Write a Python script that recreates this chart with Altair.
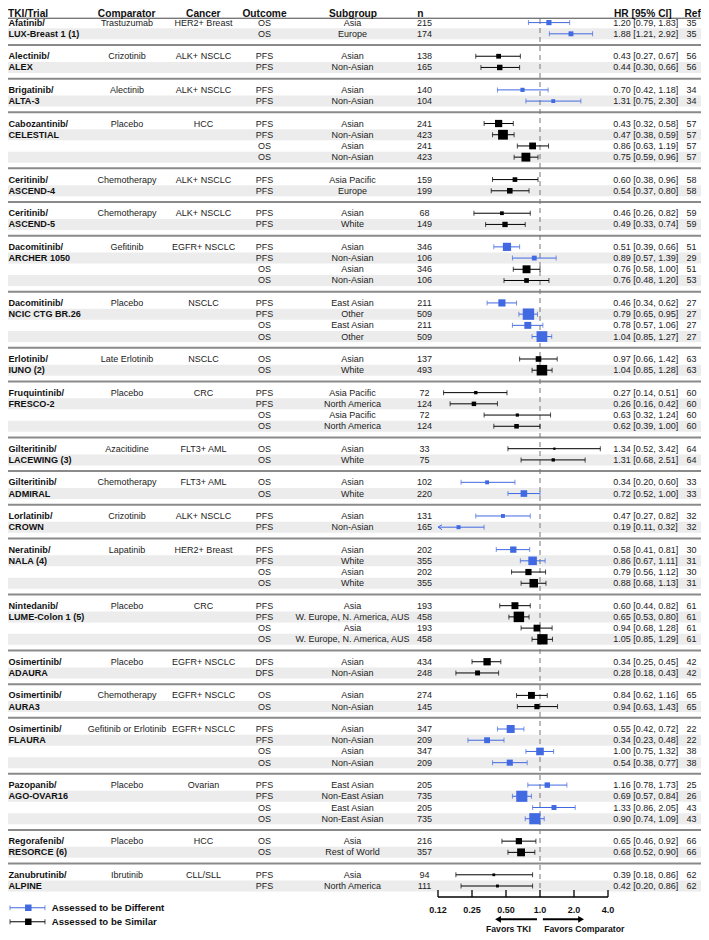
import math
import altair as alt
import pandas as pd

FONT = "Liberation Sans"
BLUE = "#4169E1"
XMIN, XMAX = 0.125, 4.0

# ---- trial-level data ----
trial_drug = ["Afatinib/", "Alectinib/", "Brigatinib/", "Cabozantinib/", "Ceritinib/", "Ceritinib/",
              "Dacomitinib/", "Dacomitinib/", "Erlotinib/", "Fruquintinib/", "Gilteritinib/",
              "Gilteritinib/", "Lorlatinib/", "Neratinib/", "Nintedanib/", "Osimertinib/",
              "Osimertinib/", "Osimertinib/", "Pazopanib/", "Regorafenib/", "Zanubrutinib/"]
trial_name = ["LUX-Breast 1 (1)", "ALEX", "ALTA-3", "CELESTIAL", "ASCEND-4", "ASCEND-5",
              "ARCHER 1050", "NCIC CTG BR.26", "IUNO (2)", "FRESCO-2", "LACEWING (3)", "ADMIRAL",
              "CROWN", "NALA (4)", "LUME-Colon 1 (5)", "ADAURA", "AURA3", "FLAURA", "AGO-OVAR16",
              "RESORCE (6)", "ALPINE"]
comparator = ["Trastuzumab", "Crizotinib", "Alectinib", "Placebo", "Chemotherapy", "Chemotherapy",
              "Gefitinib", "Placebo", "Late Erlotinib", "Placebo", "Azacitidine", "Chemotherapy",
              "Crizotinib", "Lapatinib", "Placebo", "Placebo", "Chemotherapy",
              "Gefitinib or Erlotinib", "Placebo", "Placebo", "Ibrutinib"]
cancer = ["HER2+ Breast", "ALK+ NSCLC", "ALK+ NSCLC", "HCC", "ALK+ NSCLC", "ALK+ NSCLC",
          "EGFR+ NSCLC", "NSCLC", "NSCLC", "CRC", "FLT3+ AML", "FLT3+ AML", "ALK+ NSCLC",
          "HER2+ Breast", "CRC", "EGFR+ NSCLC", "EGFR+ NSCLC", "EGFR+ NSCLC", "Ovarian", "HCC",
          "CLL/SLL"]
rows_per_trial = [2, 2, 2, 4, 2, 2, 4, 4, 2, 4, 2, 2, 2, 4, 4, 2, 2, 4, 4, 2, 2]

# ---- row-level data ----
outcome = ["OS", "OS", "PFS", "PFS", "PFS", "PFS", "PFS", "PFS", "OS", "OS", "PFS", "PFS",
           "PFS", "PFS", "PFS", "PFS", "OS", "OS", "PFS", "PFS", "OS", "OS", "OS", "OS",
           "PFS", "PFS", "OS", "OS", "OS", "OS", "OS", "OS", "PFS", "PFS",
           "PFS", "PFS", "OS", "OS", "PFS", "PFS", "OS", "OS", "DFS", "DFS", "OS", "OS",
           "PFS", "PFS", "OS", "OS", "PFS", "PFS", "OS", "OS", "OS", "OS", "PFS", "PFS"]
subgroup = ["Asia", "Europe", "Asian", "Non-Asian", "Asian", "Non-Asian",
            "Asian", "Non-Asian", "Asian", "Non-Asian", "Asia Pacific", "Europe",
            "Asian", "White", "Asian", "Non-Asian", "Asian", "Non-Asian",
            "East Asian", "Other", "East Asian", "Other", "Asian", "White",
            "Asia Pacific", "North America", "Asia Pacific", "North America",
            "Asian", "White", "Asian", "White", "Asian", "Non-Asian",
            "Asian", "White", "Asian", "White",
            "Asia", "W. Europe, N. America, AUS", "Asia", "W. Europe, N. America, AUS",
            "Asian", "Non-Asian", "Asian", "Non-Asian",
            "Asian", "Non-Asian", "Asian", "Non-Asian",
            "East Asian", "Non-East Asian", "East Asian", "Non-East Asian",
            "Asia", "Rest of World", "Asia", "North America"]
n_pts = [215, 174, 138, 165, 140, 104, 241, 423, 241, 423, 159, 199, 68, 149,
         346, 106, 346, 106, 211, 509, 211, 509, 137, 493, 72, 124, 72, 124, 33, 75,
         102, 220, 131, 165, 202, 355, 202, 355, 193, 458, 193, 458, 434, 248, 274, 145,
         347, 209, 347, 209, 205, 735, 205, 735, 216, 357, 94, 111]
hr = [1.20, 1.88, 0.43, 0.44, 0.70, 1.31, 0.43, 0.47, 0.86, 0.75, 0.60, 0.54, 0.46, 0.49,
      0.51, 0.89, 0.76, 0.76, 0.46, 0.79, 0.78, 1.04, 0.97, 1.04, 0.27, 0.26, 0.63, 0.62,
      1.34, 1.31, 0.34, 0.72, 0.47, 0.19, 0.58, 0.86, 0.79, 0.88, 0.60, 0.65, 0.94, 1.05,
      0.34, 0.28, 0.84, 0.94, 0.55, 0.34, 1.00, 0.54, 1.16, 0.69, 1.33, 0.90, 0.65, 0.68,
      0.39, 0.42]
ci_low = [0.79, 1.21, 0.27, 0.30, 0.42, 0.75, 0.32, 0.38, 0.63, 0.59, 0.38, 0.37, 0.26, 0.33,
          0.39, 0.57, 0.58, 0.48, 0.34, 0.65, 0.57, 0.85, 0.66, 0.85, 0.14, 0.16, 0.32, 0.39,
          0.52, 0.68, 0.20, 0.52, 0.27, 0.11, 0.41, 0.67, 0.56, 0.68, 0.44, 0.53, 0.68, 0.85,
          0.25, 0.18, 0.62, 0.63, 0.42, 0.23, 0.75, 0.38, 0.78, 0.57, 0.86, 0.74, 0.46, 0.52,
          0.18, 0.20]
ci_high = [1.83, 2.92, 0.67, 0.66, 1.18, 2.30, 0.58, 0.59, 1.19, 0.96, 0.96, 0.80, 0.82, 0.74,
           0.66, 1.39, 1.00, 1.20, 0.62, 0.95, 1.06, 1.27, 1.42, 1.28, 0.51, 0.42, 1.24, 1.00,
           3.42, 2.51, 0.60, 1.00, 0.82, 0.32, 0.81, 1.11, 1.12, 1.13, 0.82, 0.80, 1.28, 1.29,
           0.45, 0.43, 1.16, 1.43, 0.72, 0.48, 1.32, 0.77, 1.73, 0.84, 2.05, 1.09, 0.92, 0.90,
           0.86, 0.86]
ref_no = [35, 35, 56, 56, 34, 34, 57, 57, 57, 57, 58, 58, 59, 59, 51, 29, 51, 53,
          27, 27, 27, 27, 63, 63, 60, 60, 60, 60, 64, 64, 33, 33, 32, 32, 30, 31, 30, 31,
          61, 61, 61, 61, 42, 42, 65, 65, 22, 22, 38, 38, 25, 26, 43, 43, 66, 66, 62, 62]
assessed = ["D", "D", "S", "S", "D", "D", "S", "S", "S", "S", "S", "S", "S", "S",
            "D", "D", "S", "S", "D", "D", "D", "D", "S", "S", "S", "S", "S", "S", "S", "S",
            "D", "D", "D", "D", "D", "D", "S", "S", "S", "S", "S", "S", "S", "S", "S", "S",
            "D", "D", "D", "D", "D", "D", "D", "D", "S", "S", "S", "S"]

headers = ["TKI/Trial", "Comparator", "Cancer", "Outcome", "Subgroup", "n", "HR [95% CI]", "Ref"]
tick_values = [0.125, 0.25, 0.5, 1.0, 2.0, 4.0]
tick_labels = ["0.12", "0.25", "0.50", "1.0", "2.0", "4.0"]
legend_labels = ["Assessed to be Different", "Assessed to be Similar"]

# ---- build table ----
records, seps = [], []
slot, i = 1, 0
for g, k in enumerate(rows_per_trial):
    for j in range(k):
        se = (math.log(ci_high[i]) - math.log(ci_low[i])) / 3.92
        side = 1.1 / se
        records.append(dict(
            slot=slot,
            trial=trial_drug[g] if j == 0 else (trial_name[g] if j == 1 else ""),
            comp=comparator[g] if j == 0 else "",
            cancer=cancer[g] if j == 0 else "",
            outcome=outcome[i], subgroup=subgroup[i], n=str(n_pts[i]),
            hrtxt=f"{hr[i]:.2f} [{ci_low[i]:.2f}, {ci_high[i]:.2f}]",
            ref=str(ref_no[i]), hr=hr[i], lo=ci_low[i], hi=ci_high[i],
            lo_c=max(ci_low[i], XMIN), clipped=ci_low[i] < XMIN,
            assessed="Different" if assessed[i] == "D" else "Similar",
            shade=(j % 2 == 1), area=side * side,
            y_top=slot - 0.49, y_bot=slot + 0.49))
        slot += 1
        i += 1
    if g < len(rows_per_trial) - 1:
        seps.append(slot)
        slot += 1

df = pd.DataFrame(records)
sep_df = pd.DataFrame({"slot": seps})

H, W = 928, 693
PITCH, OFF = 11.213, 3.387
S0 = -OFF / PITCH
S1 = (H - OFF) / PITCH
ys = alt.Scale(domain=[S0, S1], reverse=True, nice=False, zero=False)
xs = alt.Scale(type="log", base=2, domain=[XMIN, XMAX], range=[430, 600], nice=False)
cs = alt.Scale(domain=["Different", "Similar"], range=[BLUE, "#000000"])


def Y(f):
    return alt.Y(f, scale=ys, axis=None)


def X(f):
    return alt.X(f, scale=xs, axis=None)


COL = alt.Color("assessed:N", scale=cs, legend=None)

layers = []
# shading bands
layers.append(alt.Chart(df[df.shade]).mark_rect(color="#ececec").encode(y=Y("y_top:Q"), y2="y_bot:Q"))
# separators
layers.append(alt.Chart(sep_df).mark_rule(color="#8a8a8a", strokeWidth=2).encode(y=Y("slot:Q")))
# header rule
layers.append(alt.Chart(pd.DataFrame({"slot": [0.61]})).mark_rule(color="#444", strokeWidth=1)
              .encode(y=Y("slot:Q")))
# reference line
layers.append(alt.Chart(pd.DataFrame({"x": [1.0], "a": [0.68], "b": [78.36]}))
              .mark_rule(color="#777", strokeDash=[5, 4], strokeWidth=1)
              .encode(x=X("x:Q"), y=Y("a:Q"), y2="b:Q"))
# CI lines
layers.append(alt.Chart(df).mark_rule(strokeWidth=1)
              .encode(x=X("lo_c:Q"), x2="hi:Q", y=Y("slot:Q"), color=COL))
layers.append(alt.Chart(df).mark_tick(orient="vertical", size=5, thickness=1)
              .encode(x=X("hi:Q"), y=Y("slot:Q"), color=COL))
layers.append(alt.Chart(df[~df.clipped]).mark_tick(orient="vertical", size=5, thickness=1)
              .encode(x=X("lo:Q"), y=Y("slot:Q"), color=COL))
layers.append(alt.Chart(df[df.clipped]).mark_point(shape="M0,0L2,-1.2M0,0L2,1.2", filled=False,
                                                   size=16, strokeWidth=1, opacity=1)
              .encode(x=X("lo_c:Q"), y=Y("slot:Q"), color=COL))
# squares
layers.append(alt.Chart(df).mark_square(opacity=1)
              .encode(x=X("hr:Q"), y=Y("slot:Q"), size=alt.Size("area:Q", scale=None), color=COL))


def txt(field, x, align="center", bold=False, size=9, color="#222"):
    return alt.Chart(df).mark_text(align=align, baseline="middle", font=FONT, fontSize=size,
                                   fontWeight="bold" if bold else "normal", color=color) \
        .encode(x=alt.value(x), y=Y("slot:Q"), text=f"{field}:N")


layers += [
    txt("trial", 0.5, "left", bold=True, size=9.1, color="#111"),
    txt("comp", 119),
    txt("cancer", 195.5),
    txt("outcome", 256.5),
    txt("subgroup", 344.5),
    txt("n", 416.5),
    txt("hrtxt", 605.3, "left"),
    txt("ref", 683.5),
]

# header (kept fully inside the drawing area)
hdr_x = [0, 118.7, 195.3, 256.5, 345, 412.3, 606, 676.5]
hdr_align = ["left", "center", "center", "center", "center", "center", "left", "left"]
for lab, hx, ha in zip(headers, hdr_x, hdr_align):
    layers.append(alt.Chart(pd.DataFrame({"slot": [0.51], "t": [lab]}))
                  .mark_text(align=ha, baseline="alphabetic", font=FONT, fontSize=10.2,
                             fontWeight="bold", color="#111")
                  .encode(x=alt.value(hx), y=Y("slot:Q"), text="t:N"))

# custom x axis
tick_df = pd.DataFrame({"v": tick_values, "lab": tick_labels, "a": 78.36, "b": 78.98, "ly": 80.14})
layers.append(alt.Chart(tick_df).mark_rule(color="#000", strokeWidth=1.3)
              .encode(x=X("v:Q"), y=Y("a:Q"), y2="b:Q"))
layers.append(alt.Chart(pd.DataFrame({"a": [XMIN], "b": [XMAX], "y": [78.98]}))
              .mark_rule(color="#000", strokeWidth=1.3).encode(x=X("a:Q"), x2="b:Q", y=Y("y:Q")))
layers.append(alt.Chart(tick_df).mark_text(font=FONT, fontSize=9, fontWeight="bold", color="#111",
                                           baseline="middle")
              .encode(x=X("v:Q"), y=Y("ly:Q"), text="lab:N"))

# favors arrows
arr_df = pd.DataFrame({"a": [0.94, 1.06], "b": [0.43, 2.3], "y": [80.97, 80.97]})
layers.append(alt.Chart(arr_df).mark_rule(color="#000", strokeWidth=2)
              .encode(x=X("a:Q"), x2="b:Q", y=Y("y:Q")))
layers.append(alt.Chart(pd.DataFrame({"x": [0.425], "y": [80.97]}))
              .mark_point(shape="triangle-left", filled=True, size=45, color="#000", opacity=1)
              .encode(x=X("x:Q"), y=Y("y:Q")))
layers.append(alt.Chart(pd.DataFrame({"x": [2.31], "y": [80.97]}))
              .mark_point(shape="triangle-right", filled=True, size=45, color="#000", opacity=1)
              .encode(x=X("x:Q"), y=Y("y:Q")))
layers.append(alt.Chart(pd.DataFrame({"x": [0.83], "y": [81.86], "t": ["Favors TKI"]}))
              .mark_text(align="right", baseline="middle", font=FONT, fontSize=8.7,
                         fontWeight="bold", color="#111")
              .encode(x=X("x:Q"), y=Y("y:Q"), text="t:N"))
layers.append(alt.Chart(pd.DataFrame({"x": [1.09], "y": [81.86], "t": ["Favors Comparator"]}))
              .mark_text(align="left", baseline="middle", font=FONT, fontSize=8.7,
                         fontWeight="bold", color="#111")
              .encode(x=X("x:Q"), y=Y("y:Q"), text="t:N"))

# legend
leg_df = pd.DataFrame({"t": legend_labels, "assessed": ["Different", "Similar"], "slot": [79.94, 81.19]})
layers.append(alt.Chart(leg_df).mark_rule(strokeWidth=1)
              .encode(x=alt.value(2), x2=alt.value(37), y=Y("slot:Q"), color=COL))
for cx in (2, 37):
    layers.append(alt.Chart(leg_df).mark_tick(orient="vertical", size=5, thickness=1)
                  .encode(x=alt.value(cx), y=Y("slot:Q"), color=COL))
layers.append(alt.Chart(leg_df).mark_square(size=42, opacity=1)
              .encode(x=alt.value(20.3), y=Y("slot:Q"), color=COL))
layers.append(alt.Chart(leg_df).mark_text(align="left", baseline="middle", font=FONT, fontSize=9.6,
                                          fontWeight="bold", color="#111")
              .encode(x=alt.value(43.7), y=Y("slot:Q"), text="t:N"))

chart = alt.layer(*layers).properties(
    width=W, height=H, padding=0, autosize=alt.AutoSizeParams(type="none")
).configure_view(stroke=None)

chart.save("out.html", embed_options={"renderer": "svg", "actions": False})
